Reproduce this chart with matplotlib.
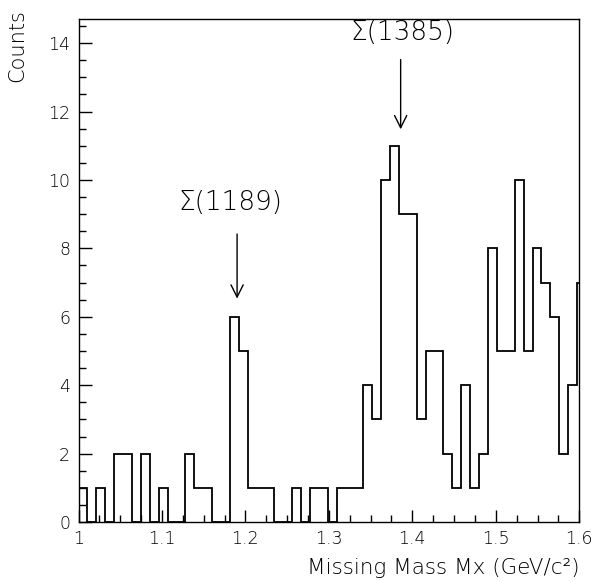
import matplotlib
matplotlib.use("Agg")
import matplotlib.pyplot as plt
import numpy as np

# histogram contents, bins of 0.8/75 GeV starting at 1.0
x_start = 1.0
bin_width = 0.8 / 75
counts = [1, 0, 1, 0, 2, 2, 0, 2, 0, 1,
          0, 0, 2, 1, 1, 0, 0, 6, 5, 1,
          1, 1, 0, 0, 1, 0, 1, 1, 0, 1,
          1, 1, 4, 3, 10, 11, 9, 9, 3, 5,
          5, 2, 1, 4, 1, 2, 8, 5, 5, 10,
          5, 8, 7, 6, 2, 4, 7]

x_ticks = [1.0, 1.1, 1.2, 1.3, 1.4, 1.5, 1.6]
x_ticklabels = ["1", "1.1", "1.2", "1.3", "1.4", "1.5", "1.6"]
y_ticks = [0, 2, 4, 6, 8, 10, 12, 14]

peak_labels = ["\u03a3(1189)", "\u03a3(1385)"]
peak_x = [1.19, 1.386]
text_x = [1.182, 1.388]
text_y = [9.33, 14.3]
arrow_top = [8.5, 13.6]
arrow_tip = [6.45, 11.4]

plt.rcParams["font.family"] = ["DejaVu Sans"]

fig = plt.figure(figsize=(5.95, 5.81), dpi=100)
ax = fig.add_axes([0.132, 0.1015, 0.8415, 0.8655])

edges = x_start + bin_width * np.arange(len(counts) + 1)
ax.stairs(counts, edges, color="black", linewidth=1.3, baseline=0)

ax.set_xlim(1.0, 1.6)
ax.set_ylim(0, 14.7)
ax.set_xticks(x_ticks, x_ticklabels)
ax.set_yticks(y_ticks)
ax.set_xticks(np.arange(1.0, 1.6001, 0.025), minor=True)
ax.set_yticks(np.arange(0, 14.71, 0.5), minor=True)
ax.tick_params(which="both", direction="in", top=False, right=False,
               labelsize=12.5, width=1, pad=6, labelcolor="black")
ax.tick_params(which="major", length=9)
ax.tick_params(which="minor", length=5)
for lbl in ax.get_xticklabels() + ax.get_yticklabels():
    lbl.set_fontweight("light")
for s in ax.spines.values():
    s.set_linewidth(1)

for lab, tx, px, ty, at, tip in zip(peak_labels, text_x, peak_x, text_y, arrow_top, arrow_tip):
    ax.text(tx, ty, lab, ha="center", va="center", fontsize=19, fontweight="light")
    ax.annotate("", xy=(px, tip), xytext=(px, at),
                arrowprops=dict(arrowstyle="->", color="black", lw=1,
                                mutation_scale=22))

fig.text(0.9736, 0.006, "Missing Mass Mx (GeV/c\u00b2)", ha="right", va="bottom",
         fontsize=15.5, fontweight="light")
fig.text(0.012, 0.985, "Counts", rotation=90, ha="left", va="top", fontsize=15,
         fontweight="light")

fig.savefig("out.png", dpi=100)
